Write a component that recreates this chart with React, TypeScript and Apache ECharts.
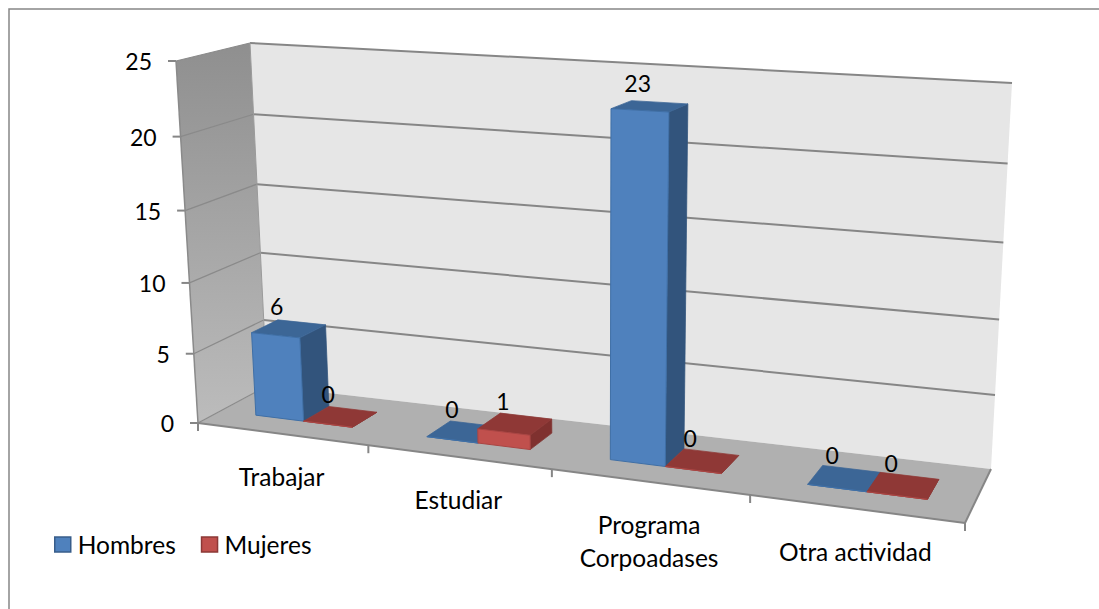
import React, { useEffect, useRef } from "react";
import * as echarts from "echarts";

const categories = ["Trabajar", "Estudiar", "Programa\nCorpoadases", "Otra actividad"];
const hombres = [6, 0, 23, 0];
const mujeres = [0, 1, 0, 0];
const yTicks = [0, 5, 10, 15, 20, 25];
const yMax = 25;

type Pt = [number, number];
// Projected corners of the chart's box: [bottom-left, bottom-right, top-right, top-left]
const frontQuad: Pt[] = [[198, 423], [965, 523], [990, 103], [176, 61]];
const backQuad: Pt[] = [[267, 386], [991, 469], [1012, 83], [250, 43]];
const barFrac = 0.286;
const depth0 = 0.33;
const depth1 = 0.71;
const FONT = "Lato";
const DIGIT_SIZE = 23;
const WORD_SIZE = 24.5;

const homography = (q: Pt[]) => {
  const [[x0, y0], [x1, y1], [x2, y2], [x3, y3]] = q;
  const dx1 = x1 - x2, dx2 = x3 - x2, sx = x0 - x1 + x2 - x3;
  const dy1 = y1 - y2, dy2 = y3 - y2, sy = y0 - y1 + y2 - y3;
  const det = dx1 * dy2 - dx2 * dy1;
  const g = (sx * dy2 - dx2 * sy) / det;
  const h = (dx1 * sy - sx * dy1) / det;
  const a = x1 - x0 + g * x1, b = x3 - x0 + h * x3;
  const d = y1 - y0 + g * y1, e = y3 - y0 + h * y3;
  return (u: number, v: number): Pt => {
    const k = g * u + h * v + 1;
    return [(a * u + b * v + x0) / k, (d * u + e * v + y0) / k];
  };
};
const front = homography(frontQuad);
const back = homography(backQuad);
const P = (u: number, v: number, w: number): Pt => {
  const f = front(u, v), b = back(u, v);
  return [f[0] + (b[0] - f[0]) * w, f[1] + (b[1] - f[1]) * w];
};

const poly = (points: Pt[], fill: any, stroke?: string, lineWidth = 1) => ({
  type: "polygon",
  silent: true,
  shape: { points },
  style: { fill, stroke: stroke || "none", lineWidth, lineJoin: "round" },
});
const seg = (a: Pt, b: Pt, stroke = "#868686", lineWidth = 2) => ({
  type: "line",
  silent: true,
  shape: { x1: a[0], y1: a[1], x2: b[0], y2: b[1] },
  style: { stroke, lineWidth },
});
const label = (text: string, x: number, y: number, size: number, align = "center", lineHeight?: number) => ({
  type: "text",
  silent: true,
  style: {
    text, x, y, align, verticalAlign: "middle",
    fontFamily: FONT, fontSize: size, fill: "#000", ...(lineHeight ? { lineHeight } : {}),
  },
});

const frameRender = (_p: any, api: any) => {
  const cs = _p.coordSys;
  const vOf = (t: number) => (cs.y + cs.height - api.coord([0, t])[1]) / cs.height;
  const n = categories.length;
  const kids: any[] = [];
  kids.push(
    poly([P(0, 0, 1), P(1, 0, 1), P(1, 1, 1), P(0, 1, 1)], "#e6e6e6"),
    poly([P(0, 0, 0), P(0, 0, 1), P(0, 1, 1), P(0, 1, 0)], {
      type: "linear", x: 0, y: 0, x2: 0, y2: 1,
      colorStops: [{ offset: 0, color: "#8f8f8f" }, { offset: 1, color: "#bcbcbc" }],
    }),
    poly([P(0, 0, 0), P(1, 0, 0), P(1, 0, 1), P(0, 0, 1)], "#b0b0b0")
  );
  yTicks.forEach((t) => {
    const v = vOf(t);
    if (t > 0) kids.push(seg(P(0, v, 1), P(1, v, 1)));
    kids.push(seg(P(0, v, 0), P(0, v, 1), "#8a8a8a", 1.25));
    const a = P(0, v, 0);
    kids.push(seg([a[0] - 8, a[1]], a));
    kids.push(label(String(t), a[0] - 24, a[1], DIGIT_SIZE, "right"));
  });
  kids.push(seg(P(0, 0, 0), P(0, 1, 0), "#8a8a8a", 1.5));
  kids.push(seg(P(0, 1, 1), P(0, 0, 1), "#9a9a9a", 1));
  kids.push(seg(P(0, 0, 0), P(1, 0, 0)), seg(P(1, 0, 0), P(1, 0, 1)));
  for (let i = 0; i <= n; i++) {
    const a = P(i / n, 0, 0);
    kids.push(seg(a, [a[0], a[1] + 8]));
  }
  categories.forEach((c, i) => {
    const a = P((i + 0.5) / n, 0, 0);
    const lines = c.split("\n").length;
    kids.push(label(c, a[0], a[1] + 26 + (lines * 33) / 2, WORD_SIZE, "center", 33));
  });
  return { type: "group", children: kids };
};

const barRender = (side: 0 | 1, colors: { front: string; top: string; side: string; edge: string }) =>
  (p: any, api: any) => {
    const cs = p.coordSys;
    const i = api.value(0), val = api.value(1);
    const c = api.coord([i, val]);
    const band = api.size([1, 0])[0] / cs.width;
    const uc = (c[0] - cs.x) / cs.width;
    const u0 = uc + (side - 1) * barFrac * band;
    const u1 = u0 + barFrac * band;
    const v = (cs.y + cs.height - c[1]) / cs.height;
    const topMid = P((u0 + u1) / 2, v, (depth0 + depth1) / 2);
    return {
      type: "group",
      children: [
        poly([P(u1, 0, depth0), P(u1, 0, depth1), P(u1, v, depth1), P(u1, v, depth0)], colors.side, colors.side, 0.75),
        poly([P(u0, v, depth0), P(u1, v, depth0), P(u1, v, depth1), P(u0, v, depth1)], colors.top, colors.top, 0.75),
        poly([P(u0, 0, depth0), P(u1, 0, depth0), P(u1, v, depth0), P(u0, v, depth0)], colors.front, colors.edge, 1),
        label(String(val), topMid[0] - 12, topMid[1] - 23, DIGIT_SIZE),
      ],
    };
  };

const blue = { front: "#4f81bd", top: "#3c6696", side: "#32547c", edge: "#3f6fa6" };
const red = { front: "#c0504d", top: "#8f3836", side: "#7f312f", edge: "#a94543" };

export default function App() {
  const ref = useRef<HTMLDivElement>(null);
  useEffect(() => {
    const chart = echarts.init(ref.current!, undefined, { renderer: "svg" });
    chart.setOption({
      animation: false,
      backgroundColor: "#ffffff",
      grid: { left: 100, right: 100, top: 100, bottom: 100 },
      xAxis: { type: "category", data: categories, show: false },
      yAxis: { type: "value", min: 0, max: yMax, interval: 5, show: false },
      legend: {
        left: 54, top: 532, padding: 0, itemWidth: 16, itemHeight: 15, itemGap: 25,
        icon: "rect",
        textStyle: { fontFamily: FONT, fontSize: WORD_SIZE, color: "#000", padding: [0, 0, 0, 2] },
        data: [
          { name: "Hombres", itemStyle: { color: "#4f81bd", borderColor: "#385d8a", borderWidth: 1.5 } },
          { name: "Mujeres", itemStyle: { color: "#c0504d", borderColor: "#8c3836", borderWidth: 1.5 } },
        ],
      },
      graphic: [
        {
          type: "polyline", silent: true,
          shape: { points: [[9, 609], [9, 9], [1099, 9]] },
          style: { fill: "none", stroke: "#868686", lineWidth: 1.5 },
        },
      ],
      series: [
        { type: "custom", name: "frame", coordinateSystem: "cartesian2d", silent: true, clip: false, z: 1, data: [[0, 0]], renderItem: frameRender },
        { type: "custom", name: "Hombres", coordinateSystem: "cartesian2d", silent: true, clip: false, z: 2, itemStyle: { color: blue.front }, encode: { x: 0, y: 1 }, data: hombres.map((v, i) => [i, v]), renderItem: barRender(0, blue) },
        { type: "custom", name: "Mujeres", coordinateSystem: "cartesian2d", silent: true, clip: false, z: 3, itemStyle: { color: red.front }, encode: { x: 0, y: 1 }, data: mujeres.map((v, i) => [i, v]), renderItem: barRender(1, red) },
      ],
    });
    return () => chart.dispose();
  }, []);
  return <div ref={ref} style={{ position: "fixed", left: 0, top: 0, width: 1099, height: 609 }} />;
}
